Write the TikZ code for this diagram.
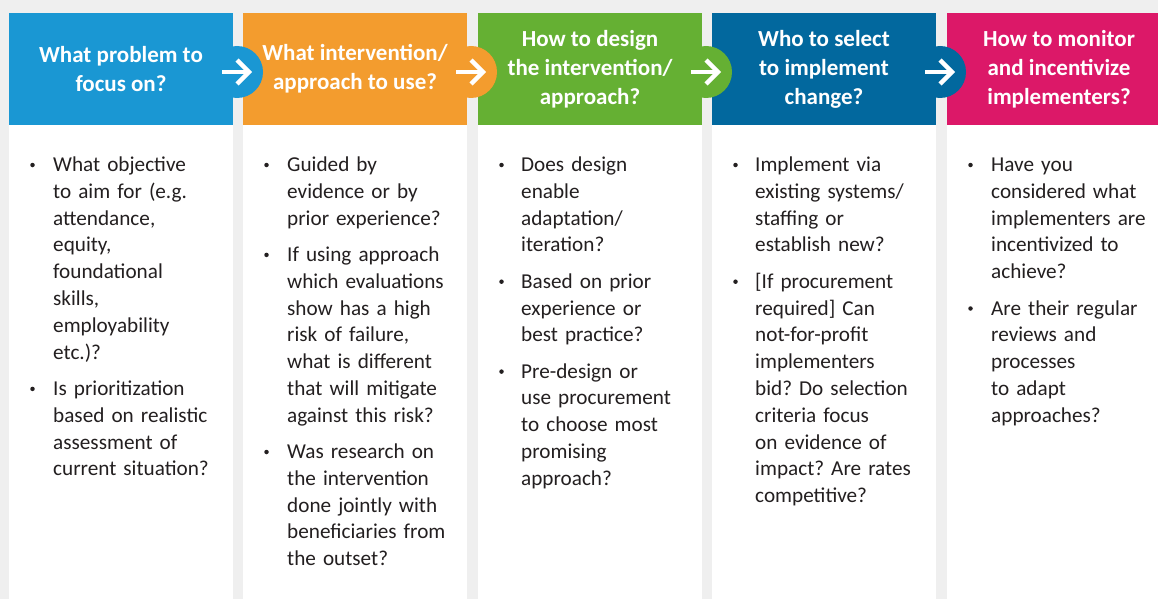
\documentclass[tikz,border=0pt]{standalone}
\usepackage{fontspec}
\setmainfont{Carlito}
\frenchspacing
\definecolor{bg}{HTML}{EFEFEF}
\definecolor{ink}{HTML}{231F20}
\definecolor{cblue}{HTML}{1A97D3}
\definecolor{corange}{HTML}{F39C2E}
\definecolor{cgreen}{HTML}{65B033}
\definecolor{cnavy}{HTML}{02689E}
\definecolor{cpink}{HTML}{DC1868}
\begin{document}
\begin{tikzpicture}[x=1pt, y=1pt,
  head/.style={text=white, font=\bfseries\fontsize{23}{29}\selectfont, align=center,
    inner sep=0, minimum width=224pt, minimum height=112pt},
  item/.style={anchor=base west, text width=200pt, align=left, inner sep=0,
    text=ink, font=\fontsize{21.2}{26.8}\selectfont},
  bul/.style={circle, fill=ink, inner sep=0, minimum size=4.5pt},
  arr/.style={white, line width=4.5pt, line join=miter}]
  \clip (0,0) rectangle (1158,-599);
  \fill[bg] (0,0) rectangle (1158,-599);
  % columns
  \fill[white] (9,-125) rectangle (233,-599);
  \fill[white] (243,-125) rectangle (467,-599);
  \fill[white] (478,-125) rectangle (702,-599);
  \fill[white] (712,-125) rectangle (936,-599);
  \fill[white] (947,-125) rectangle (1171,-599);
  \node[head, fill=cblue] (h1) at (121,-69) {What problem to\\focus on?};
  \node[head, fill=corange] (h2) at (355,-69) {What intervention/\\approach to use?};
  \node[head, fill=cgreen] (h3) at (590,-69) {How to design\\the intervention/\\approach?};
  \node[head, fill=cnavy] (h4) at (824,-69) {Who to select\\to implement\\change?};
  \node[head, fill=cpink] (h5) at (1059,-69) {How to monitor\\and incentivize\\implementers?};
  % tabs with arrows
  \fill[cblue] (237,-72) circle (26);
  \fill[corange] (471,-72) circle (26);
  \fill[cgreen] (706,-72) circle (26);
  \fill[cnavy] (940,-72) circle (26);
  \draw[arr] (222,-72) -- (249,-72);
  \draw[arr] (237,-60) -- (249,-72) -- (237,-84);
  \draw[arr] (456,-72) -- (483,-72);
  \draw[arr] (471,-60) -- (483,-72) -- (471,-84);
  \draw[arr] (691,-72) -- (718,-72);
  \draw[arr] (706,-60) -- (718,-72) -- (706,-84);
  \draw[arr] (925,-72) -- (952,-72);
  \draw[arr] (940,-60) -- (952,-72) -- (940,-84);
  % column 1
  \node[bul] (d11) at (32.5,-165) {};
  \node[item] (b11) at (53,-171.5) {What objective\\to aim for (e.g.\\attendance,\\equity,\\foundational\\skills,\\employability\\etc.)?};
  \node[bul] (d12) at (32.5,-388.9) {};
  \node[item] (b12) at (53,-395.4) {Is prioritization\\based on realistic\\assessment of\\current situation?};
  % column 2
  \node[bul] (d21) at (266.5,-165) {};
  \node[item] (b21) at (287,-171.5) {Guided by\\evidence or by\\prior experience?};
  \node[bul] (d22) at (266.5,-254.9) {};
  \node[item] (b22) at (287,-261.4) {If using approach\\which evaluations\\show has a high\\risk of failure,\\what is different\\that will mitigate\\against this risk?};
  \node[bul] (d23) at (266.5,-452) {};
  \node[item] (b23) at (287,-458.5) {Was research on\\the intervention\\done jointly with\\beneficiaries from\\the outset?};
  % column 3
  \node[bul] (d31) at (501.5,-165) {};
  \node[item] (b31) at (521,-171.5) {Does design\\enable\\adaptation/\\iteration?};
  \node[bul] (d32) at (501.5,-281.7) {};
  \node[item] (b32) at (521,-288.2) {Based on prior\\experience or\\best practice?};
  \node[bul] (d33) at (501.5,-371.6) {};
  \node[item] (b33) at (521,-378.1) {Pre-design or\\use procurement\\to choose most\\promising\\approach?};
  % column 4
  \node[bul] (d41) at (735.5,-165) {};
  \node[item] (b41) at (755,-171.5) {Implement via\\existing systems/\\staffing or\\establish new?};
  \node[bul] (d42) at (735.5,-281.7) {};
  \node[item] (b42) at (755,-288.2) {[If procurement\\required] Can\\not-for-profit\\implementers\\bid? Do selection\\criteria focus\\on evidence of\\impact? Are rates\\competitive?};
  % column 5
  \node[bul] (d51) at (970.5,-165) {};
  \node[item] (b51) at (991,-171.5) {Have you\\considered what\\implementers are\\incentivized to\\achieve?};
  \node[bul] (d52) at (970.5,-308.5) {};
  \node[item] (b52) at (991,-315) {Are their regular\\reviews and\\processes\\to adapt\\approaches?};
\end{tikzpicture}
\end{document}
